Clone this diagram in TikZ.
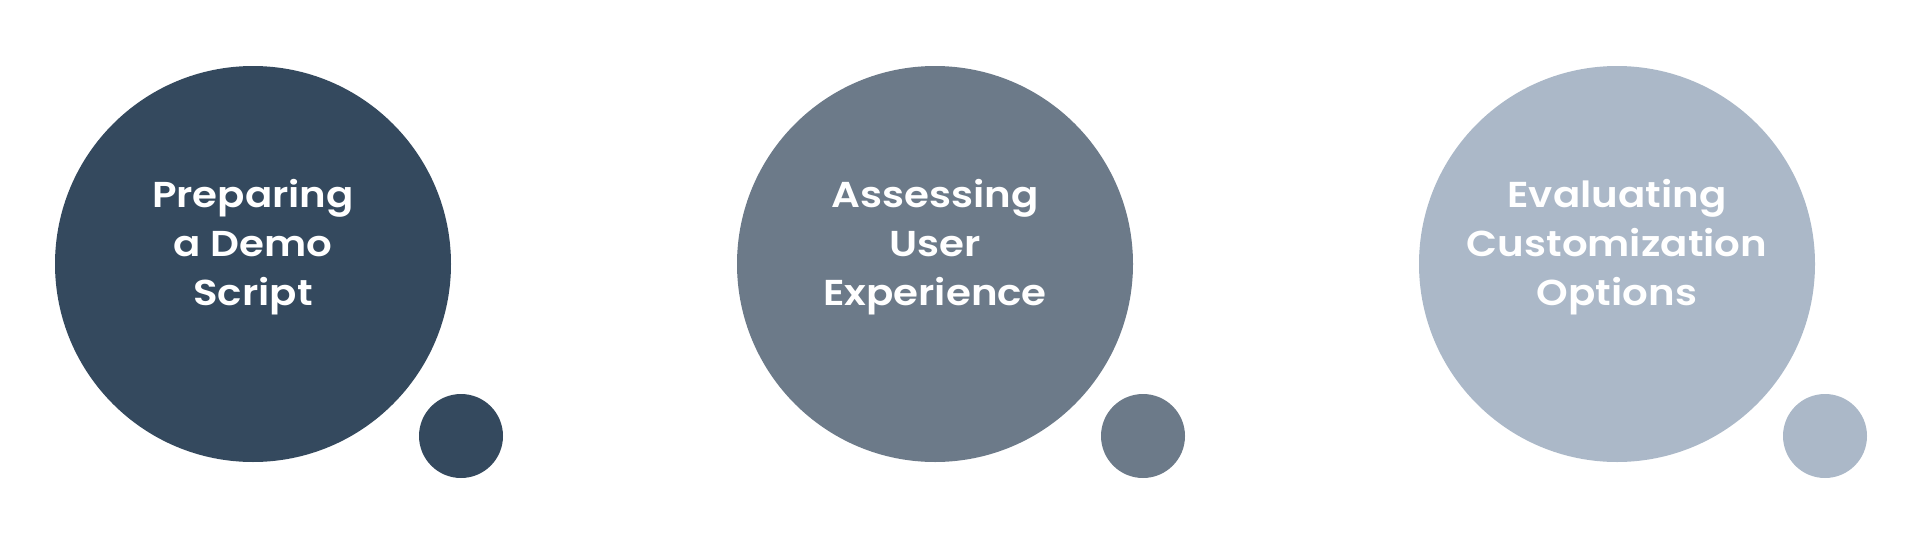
\documentclass[tikz,border=0pt]{standalone}
\usepackage{fontspec}
\setmainfont{Poppins}[BoldFont={Poppins SemiBold}, FakeStretch=1.12]
\usetikzlibrary{positioning, calc}

\definecolor{stepone}{HTML}{34495E}
\definecolor{steptwo}{HTML}{6C7A89}
\definecolor{stepthree}{HTML}{ABB8C8}

\begin{document}
\begin{tikzpicture}[
    x=1pt, y=-1pt,
    bubble/.style={circle, minimum size=396pt, inner sep=0pt},
    bubbledot/.style={circle, minimum size=84pt, inner sep=0pt},
    bubbletext/.style={align=center, text=white,
        font=\bfseries\fontsize{36}{49}\selectfont}
]

    % page size of the reference
    \useasboundingbox (0,0) rectangle (1920,541);

    % Three steps, 682 apart
    \foreach \i/\stepcol/\lineA/\lineB/\lineC in {
        0/stepone/Preparing/a Demo/Script,
        1/steptwo/Assessing/User/Experience,
        2/stepthree/Evaluating/Customization/Options
    } {
        % big circle
        \node[bubble, fill=\stepcol] (c\i) at (253+\i*682, 264) {};
        % small circle at lower right
        \node[bubbledot, fill=\stepcol] (d\i) at ($(c\i)+(208,172)$) {};
        % text, slightly above the centre
        \node[bubbletext] (t\i) at ([yshift=17pt]c\i.center) {\lineA\\\lineB\\\lineC};
    }

\end{tikzpicture}
\end{document}
